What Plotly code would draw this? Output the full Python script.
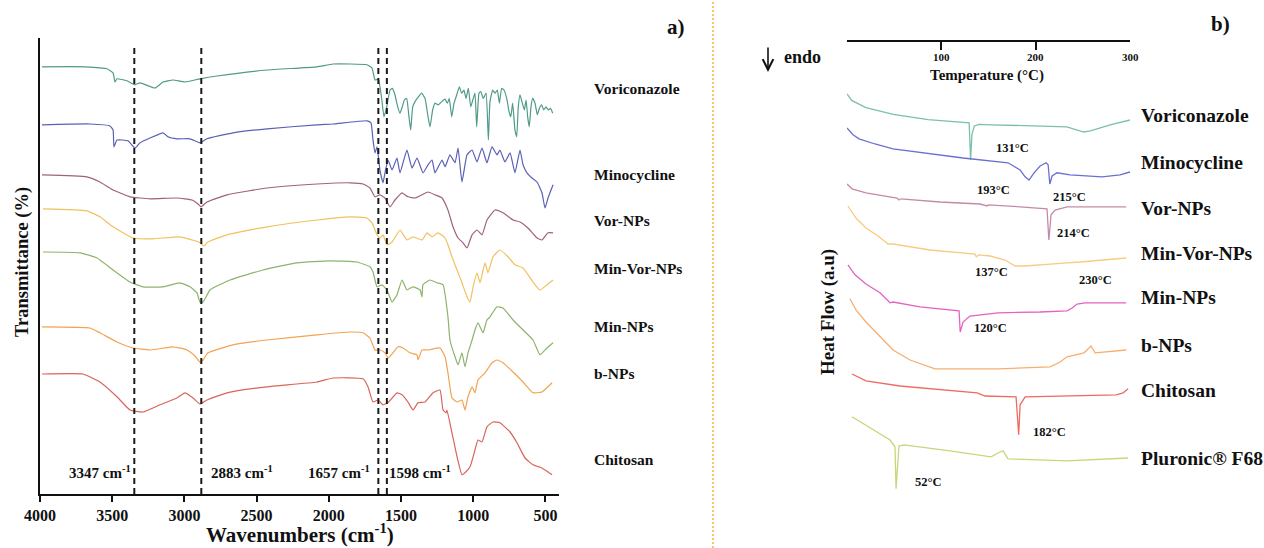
import plotly.graph_objects as go

SERIF = "Liberation Serif, Times New Roman, serif"

# ---------------- FTIR spectra (wavenumber in cm-1, stacked transmittance in %) ----------------
vori_wn = [3986, 3688, 3536, 3494, 3481, 3467, 3398, 3342, 3307, 3204, 3148, 3079, 2996, 2892, 2774,
           2428, 2082, 1971, 1736, 1701, 1680, 1657, 1634, 1618, 1599, 1576, 1560, 1542, 1523, 1507,
           1491, 1477, 1461, 1445, 1433, 1419, 1403, 1380, 1357, 1334, 1311, 1299, 1281, 1265, 1242,
           1218, 1195, 1179, 1166, 1149, 1133, 1114, 1096, 1080, 1064, 1050, 1034, 1017, 1003, 988,
           976, 960, 948, 930, 911, 895, 884, 865, 849, 833, 819, 803, 787, 768, 752,
           740, 727, 711, 699, 688, 676, 660, 646, 634, 623, 612, 600, 588, 572, 556,
           542, 526, 512, 496, 480, 464, 450]
vori_t = [106.8, 106.8, 106.3, 105.3, 103.0, 103.8, 103.3, 102.3, 102.8, 101.5, 103.0, 103.5, 103.0, 103.8, 104.5,
          106.0, 106.8, 107.5, 107.3, 106.5, 103.5, 103.7, 98.9, 94.3, 96.8, 101.0, 101.4, 99.8, 96.8, 95.2,
          96.8, 98.5, 98.9, 94.3, 91.0, 96.8, 98.1, 99.3, 100.2, 98.9, 93.9, 91.8, 96.0, 97.7, 97.3,
          98.1, 98.7, 97.7, 98.9, 94.3, 97.7, 99.8, 101.8, 100.2, 101.0, 98.9, 101.4, 96.8, 98.5, 100.2,
          91.8, 100.2, 100.6, 98.9, 100.2, 88.5, 98.1, 101.0, 100.2, 101.0, 97.7, 101.4, 101.0, 98.9, 95.6,
          94.3, 97.7, 91.0, 89.3, 96.8, 99.8, 97.7, 96.0, 98.5, 94.3, 91.8, 96.8, 98.9, 97.7, 94.8,
          96.4, 97.3, 96.0, 96.8, 96.0, 96.4, 95.2]

mino_wn = [3986, 3654, 3515, 3494, 3488, 3467, 3391, 3342, 3307, 3238, 3148, 3114, 3051, 2961, 2892,
           2844, 2663, 2428, 2082, 1971, 1736, 1708, 1694, 1680, 1666, 1646, 1625, 1611, 1590, 1562,
           1528, 1507, 1459, 1424, 1389, 1348, 1313, 1285, 1265, 1216, 1195, 1161, 1126, 1105, 1078,
           1043, 1008, 974, 939, 905, 870, 835, 815, 780, 745, 711, 676, 655, 628, 593, 558, 524, 503, 482, 447]
mino_t = [92.3, 92.5, 92.0, 91.0, 86.8, 88.5, 88.3, 86.5, 87.8, 89.0, 90.3, 89.3, 88.8, 88.8, 87.8,
          88.8, 90.3, 91.3, 92.3, 92.5, 93.3, 92.8, 88.5, 85.3, 86.8, 81.0, 77.8, 80.3, 83.5, 81.0,
          84.0, 80.3, 86.0, 81.5, 84.0, 80.3, 82.3, 83.5, 80.3, 83.5, 81.8, 84.8, 82.8, 86.5, 78.0,
          84.8, 86.0, 83.0, 86.5, 82.8, 86.8, 84.8, 86.0, 83.0, 85.3, 80.3, 86.0, 82.3, 80.3, 79.0, 78.0, 75.3, 71.5, 74.0, 77.3]

vornp_wn = [3986, 3675, 3585, 3494, 3377, 3238, 3051, 2947, 2906, 2885, 2844, 2705, 2428, 2082, 1853,
            1763, 1715, 1680, 1646, 1611, 1576, 1542, 1493, 1452, 1403, 1355, 1313, 1265, 1216, 1175,
            1140, 1105, 1071, 1043, 1008, 974, 939, 905, 849, 794, 724, 676, 621, 558, 524, 482, 447]
vornp_t = [79.8, 79.3, 78.0, 76.0, 74.3, 73.8, 74.0, 73.5, 72.5, 71.8, 73.0, 74.8, 76.5, 77.5, 77.8,
           77.5, 76.5, 74.3, 74.8, 74.0, 71.8, 73.5, 75.3, 74.3, 74.0, 74.8, 75.5, 74.8, 74.0, 71.0,
           66.8, 64.0, 62.8, 61.5, 64.8, 66.0, 64.8, 68.5, 71.0, 70.3, 68.5, 68.0, 66.5, 64.0, 63.5, 65.3, 65.3]

minvor_wn = [3979, 3675, 3585, 3494, 3356, 3217, 3031, 2927, 2892, 2864, 2837, 2705, 2428, 2082, 1853,
             1736, 1701, 1666, 1646, 1625, 1597, 1562, 1507, 1459, 1417, 1355, 1320, 1285, 1244, 1195,
             1175, 1147, 1112, 1078, 1043, 1022, 1001, 974, 953, 918, 898, 863, 815, 759, 711, 655, 586, 538, 489, 447]
minvor_t = [71.3, 70.8, 69.3, 66.8, 64.0, 63.8, 64.3, 63.3, 62.8, 62.0, 63.0, 64.8, 66.8, 68.5, 69.3,
            69.0, 67.8, 64.8, 64.0, 64.8, 62.3, 63.0, 66.0, 63.5, 64.3, 63.5, 65.3, 64.3, 65.3, 64.0,
            62.3, 59.3, 56.0, 52.8, 49.3, 48.0, 51.8, 55.3, 52.8, 57.8, 55.3, 59.3, 61.0, 59.3, 57.3, 56.5, 53.0, 51.0, 52.3, 53.5]

minnp_wn = [3979, 3723, 3605, 3494, 3377, 3287, 3148, 3031, 2961, 2913, 2892, 2871, 2823, 2684, 2456,
            2220, 1992, 1805, 1715, 1694, 1666, 1632, 1597, 1562, 1528, 1493, 1459, 1417, 1368, 1355,
            1348, 1299, 1251, 1209, 1175, 1161, 1126, 1105, 1078, 1057, 1036, 1008, 988, 967, 932,
            905, 884, 835, 794, 724, 655, 586, 538, 489, 447]
minnp_t = [60.5, 60.3, 59.0, 56.0, 53.0, 51.8, 51.8, 52.8, 51.8, 50.3, 48.0, 48.0, 51.0, 53.5, 56.0,
           57.8, 58.3, 58.0, 56.8, 55.5, 51.8, 52.3, 51.0, 48.0, 49.8, 53.5, 51.0, 51.8, 51.0, 49.3,
           52.3, 53.5, 52.8, 52.3, 44.3, 38.5, 34.3, 32.3, 35.3, 31.8, 35.3, 38.5, 41.0, 42.8, 40.3,
           43.5, 44.3, 46.8, 46.5, 43.5, 41.0, 38.5, 34.8, 36.5, 37.8]

bnp_wn = [3986, 3654, 3585, 3467, 3356, 3238, 3079, 2982, 2927, 2892, 2871, 2837, 2663, 2428, 2082,
          1853, 1763, 1715, 1680, 1646, 1611, 1590, 1556, 1521, 1486, 1438, 1389, 1382, 1355, 1313,
          1230, 1195, 1175, 1147, 1112, 1078, 1057, 1036, 1008, 988, 967, 918, 870, 835, 794, 724, 655, 586, 524, 454]
bnp_t = [41.8, 41.5, 40.3, 38.0, 36.5, 36.0, 36.8, 36.0, 34.5, 33.0, 33.5, 35.3, 37.3, 38.5, 39.8,
         40.5, 40.3, 39.0, 36.0, 36.0, 35.3, 34.0, 35.3, 36.8, 36.5, 35.3, 34.8, 33.5, 36.0, 36.0,
         36.5, 34.3, 30.3, 24.0, 23.0, 23.5, 21.0, 24.3, 26.8, 25.3, 28.5, 30.3, 32.8, 33.5, 32.8, 30.5, 28.0, 25.3, 25.5, 27.8]

chito_wn = [3986, 3702, 3585, 3467, 3377, 3287, 3169, 3051, 2996, 2940, 2892, 2844, 2705, 2428, 2082,
            1971, 1763, 1729, 1694, 1659, 1625, 1590, 1528, 1493, 1452, 1417, 1382, 1334, 1278, 1230,
            1209, 1188, 1182, 1147, 1112, 1078, 1057, 1022, 988, 967, 939, 905, 863, 815, 745, 697, 641, 586, 524, 482, 454]
chito_t = [30.0, 30.0, 28.0, 24.3, 21.0, 20.5, 22.3, 24.0, 25.3, 24.0, 22.5, 23.5, 25.3, 26.8, 28.0,
           29.0, 28.8, 26.8, 23.0, 23.5, 22.3, 22.8, 25.3, 24.8, 23.0, 21.0, 22.8, 23.0, 25.3, 26.0,
           21.0, 20.3, 21.0, 15.3, 9.3, 4.8, 5.3, 6.8, 11.0, 13.5, 13.0, 16.8, 18.0, 17.8, 15.5, 12.8, 9.0, 7.3, 6.5, 5.5, 4.8]

ftir_names = ["Voriconazole", "Minocycline", "Vor-NPs", "Min-Vor-NPs", "Min-NPs", "b-NPs", "Chitosan"]
ftir_colors = ["#4f9a89", "#5a60b6", "#a0627e", "#f0c15f", "#8db36c", "#f4a252", "#d9645a"]
ftir_marked_bands = [3347, 2883, 1657, 1598]

# ---------------- DSC thermograms (temperature in °C, stacked heat flow in a.u.) ----------------
dsc_vori_temp = [0, 5, 20, 49, 86, 123, 129.5, 131, 132.5, 135, 140, 153, 233, 251, 258, 279, 300]
dsc_vori_hf = [101.5, 99.9, 98.1, 96.4, 95.1, 94.5, 94.3, 85.0, 91.5, 93.5, 93.9, 93.8, 93.3, 92.0, 92.3, 93.8, 95.0]

dsc_mino_temp = [0, 6.4, 12.7, 29.7, 48.8, 88, 123, 170.7, 183.5, 188.8, 193, 198.3, 204.7, 211, 213.2,
                 215, 217.4, 222.7, 236.5, 270.4, 289.5, 300]
dsc_mino_hf = [93.0, 91.3, 90.3, 89.0, 87.8, 86.5, 85.5, 84.3, 82.5, 80.8, 80.0, 81.8, 83.5, 84.3, 83.8,
               79.0, 81.0, 81.8, 81.3, 80.8, 81.3, 82.0]

dsc_vornp_temp = [0, 5.3, 20.1, 53, 55.1, 57.3, 98.6, 141, 148.5, 149.5, 183.5, 212, 214, 216.3, 220.6, 233.3, 296]
dsc_vornp_hf = [79.0, 77.8, 76.8, 75.5, 75.0, 75.3, 74.5, 74.0, 73.5, 73.8, 73.3, 72.8, 65.0, 71.3, 72.5, 73.3, 73.3]

dsc_minvor_temp = [1, 9.5, 20.1, 32.9, 43.5, 48.8, 88, 135.7, 137, 140, 151.6, 167.6, 178.2, 188.8, 233.3, 247, 296]
dsc_minvor_hf = [73.5, 70.5, 68.0, 66.0, 64.0, 64.0, 62.5, 61.5, 60.8, 61.3, 61.0, 60.0, 58.5, 58.5, 59.3, 59.5, 60.5]

dsc_minnp_temp = [1, 8.5, 20.1, 35, 45.6, 48.8, 77.4, 118.8, 120, 123, 130.4, 160.1, 204.7, 233.3, 238.6,
                  243.9, 252.4, 296]
dsc_minnp_hf = [58.8, 56.3, 54.0, 51.8, 49.3, 49.5, 48.3, 47.3, 42.0, 44.5, 46.0, 46.8, 47.0, 47.3, 48.0,
                49.0, 49.3, 49.3]

dsc_bnp_temp = [3.2, 9.5, 20.1, 35, 48.8, 66.8, 93.3, 160.1, 215.3, 225.9, 233.3, 251.3, 258.7, 263, 296]
dsc_bnp_hf = [50.3, 47.5, 44.5, 40.8, 37.5, 35.0, 32.8, 32.8, 33.3, 34.5, 35.8, 36.8, 38.5, 36.8, 37.5]

dsc_chito_temp = [5.3, 20.1, 56.2, 137.9, 146.3, 179.2, 182, 183.5, 188.8, 225.9, 285.3, 292.7, 298]
dsc_chito_hf = [31.5, 29.8, 28.5, 26.8, 26.0, 25.8, 16.3, 23.8, 25.8, 26.0, 26.3, 26.8, 27.8]

dsc_plur_temp = [5.3, 24.4, 45.6, 50.9, 52, 55.1, 60.4, 109.2, 152.7, 162.2, 165.4, 170.7, 233.3, 298]
dsc_plur_hf = [20.8, 18.0, 15.0, 13.3, 2.8, 13.5, 13.8, 12.3, 10.8, 12.0, 12.3, 10.3, 9.8, 10.5]

dsc_names = ["Voriconazole", "Minocycline", "Vor-NPs", "Min-Vor-NPs", "Min-NPs", "b-NPs", "Chitosan", "Pluronic® F68"]
dsc_colors = ["#7cbfae", "#6a6fd2", "#c58aa7", "#f7cb84", "#e462c0", "#f8ae6e", "#ef6a5f", "#c6d779"]

# peak temperatures written next to the thermograms: (text value, label x in °C, label y in a.u.)
dsc_peak_labels = [(131, 175, 88.0), (193, 155, 77.5), (215, 236, 75.8), (214, 240, 66.8),
                   (137, 153, 57.0), (230, 263, 55.0), (120, 152, 43.0), (182, 215, 17.0), (52, 86, 4.5)]

temp_ticks = [0, 100, 200, 300]
temp_tick_labels = ["", "100", "200", "300"]
wavenumber_ticks = [4000, 3500, 3000, 2500, 2000, 1500, 1000, 500]

W, H = 1264, 548


def px(x):
    return x / W


def py(y):
    return 1 - y / H


fig = go.Figure()

ftir_data = [(vori_wn, vori_t), (mino_wn, mino_t), (vornp_wn, vornp_t), (minvor_wn, minvor_t),
             (minnp_wn, minnp_t), (bnp_wn, bnp_t), (chito_wn, chito_t)]
for (wn, t), name, color in zip(ftir_data, ftir_names, ftir_colors):
    fig.add_trace(go.Scatter(x=wn, y=t, mode="lines", name=name, xaxis="x", yaxis="y",
                             line=dict(color=color, width=1.2, shape="spline", smoothing=0.4),
                             hoverinfo="skip", showlegend=False))

dsc_data = [(dsc_vori_temp, dsc_vori_hf), (dsc_mino_temp, dsc_mino_hf), (dsc_vornp_temp, dsc_vornp_hf),
            (dsc_minvor_temp, dsc_minvor_hf), (dsc_minnp_temp, dsc_minnp_hf), (dsc_bnp_temp, dsc_bnp_hf),
            (dsc_chito_temp, dsc_chito_hf), (dsc_plur_temp, dsc_plur_hf)]
for (tc, hf), name, color in zip(dsc_data, dsc_names, dsc_colors):
    fig.add_trace(go.Scatter(x=tc, y=hf, mode="lines", name=name, xaxis="x2", yaxis="y2",
                             line=dict(color=color, width=1.3), hoverinfo="skip", showlegend=False))

shapes = []
for band in ftir_marked_bands:
    shapes.append(dict(type="line", xref="x", yref="y", x0=band, x1=band, y0=0, y1=111.5,
                       line=dict(color="#1a1a1a", width=2, dash="6px,4px")))
# dotted separator between the two panels
shapes.append(dict(type="line", xref="paper", yref="paper", x0=px(713), x1=px(713), y0=0, y1=1,
                   line=dict(color="#f5b23a", width=1.5, dash="2px,2px")))

annotations = []


def label(text, x, y, size, xanchor="center", angle=0, xref="paper", yref="paper"):
    annotations.append(dict(text=f"<b>{text}</b>", x=x, y=y, xref=xref, yref=yref, showarrow=False,
                            xanchor=xanchor, yanchor="middle", textangle=angle,
                            font=dict(family=SERIF, size=size, color="#111111")))


# FTIR panel texts
ftir_label_y = [88, 175, 220, 268, 326, 373, 459]
for name, yy in zip(ftir_names, ftir_label_y):
    label(name, px(592), py(yy), 15.5, xanchor="left")
band_label_x = [100, 242, 339, 420]
for band, xx in zip(ftir_marked_bands, band_label_x):
    label(f"{band} cm<sup>-1</sup>", px(xx), py(472), 15)
label("a)", px(676), py(27), 21)
label("Transmittance (%)", px(22), py(262), 18.5, angle=-90)
label("Wavenumbers (cm<sup>-1</sup>)", px(300), py(533), 21)

# DSC panel texts
dsc_label_y = [116, 162, 208, 254, 298, 345, 390, 458]
for name, yy in zip(dsc_names, dsc_label_y):
    label(name, px(1139), py(yy), 19.5, xanchor="left")
for value, tx, hy in dsc_peak_labels:
    label(f"{value}°C", tx, hy, 12.5, xref="x2", yref="y2")
# temperature tick labels sit just below the top axis line
for tv, tt in zip(temp_ticks, temp_tick_labels):
    if tt:
        label(tt, tv, py(57), 11, xref="x2")
label("b)", px(1220), py(24), 21)
label("Heat Flow (a.u)", px(828), py(312), 19, angle=-90)
label("Temperature (°C)", px(987), py(76), 15)
label("endo", px(782), py(57), 18, xanchor="left")
# "endo" direction arrow
annotations.append(dict(text="", x=px(768), y=py(72), xref="paper", yref="paper",
                        ax=0, ay=-26, axref="pixel", ayref="pixel", showarrow=True,
                        arrowhead=5, arrowsize=1.3, arrowwidth=1.6, arrowcolor="#111111"))

fig.update_layout(
    width=W, height=H,
    margin=dict(l=0, r=0, t=0, b=0, autoexpand=False),
    paper_bgcolor="white", plot_bgcolor="white",
    showlegend=False,
    xaxis=dict(domain=[px(40), px(559)], range=[4000, 406], anchor="y", automargin=False,
               showline=True, linecolor="#111111", linewidth=2, mirror=False,
               ticks="outside", ticklen=6, tickwidth=2, tickcolor="#111111",
               tickvals=wavenumber_ticks,
               tickfont=dict(family=SERIF, size=16, color="#111111", weight="bold"),
               showgrid=False, zeroline=False),
    yaxis=dict(domain=[py(494), py(38)], range=[0, 114], anchor="x", automargin=False,
               showline=True, linecolor="#111111", linewidth=2,
               ticks="", showticklabels=False, showgrid=False, zeroline=False),
    xaxis2=dict(domain=[px(847), px(1130)], range=[0, 300], anchor="y2", side="top", automargin=False,
                showline=True, linecolor="#111111", linewidth=2,
                ticks="inside", ticklen=8, tickwidth=2, tickcolor="#111111",
                tickvals=temp_ticks, showticklabels=False,
                showgrid=False, zeroline=False),
    yaxis2=dict(domain=[py(500), py(42)], range=[0, 114.5], anchor="x2", visible=False, automargin=False),
    shapes=shapes,
    annotations=annotations,
)

fig.write_html("out.html")
